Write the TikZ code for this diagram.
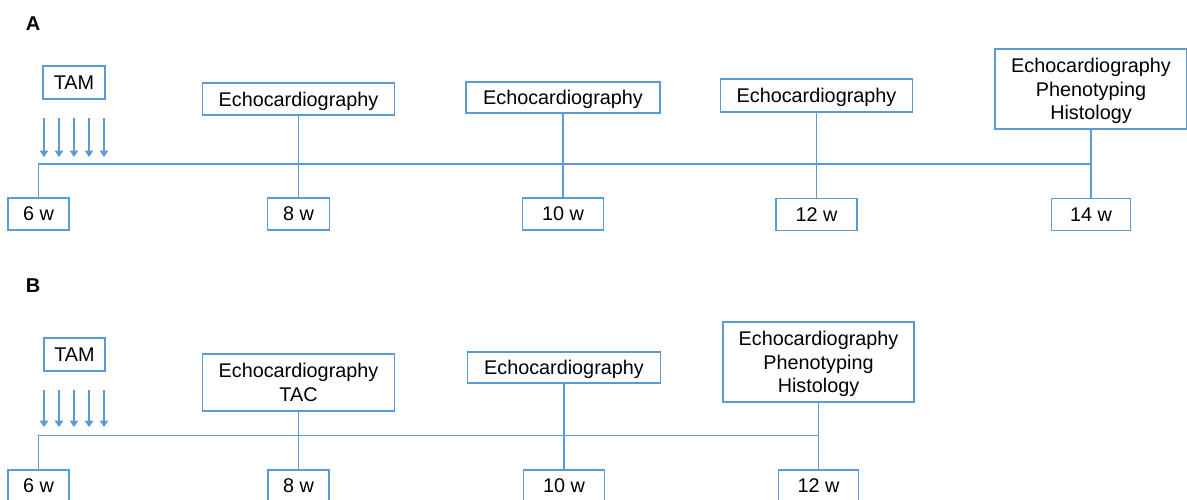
\documentclass[tikz,border=0pt]{standalone}
\usepackage{fontspec}
\setmainfont{Liberation Sans}
\usetikzlibrary{arrows.meta,positioning}
\definecolor{lineblue}{HTML}{5B9BD5}
\tikzset{
  stage/.style={draw=lineblue,line width=.75pt,align=center,inner sep=0pt,minimum height=16pt,text depth=-1pt,font=\fontsize{9.9}{11.75}\selectfont},
  week/.style={stage,minimum width=40.5pt},
  link/.style={draw=lineblue,line width=.75pt},
  dose/.style={-{Triangle[length=3.2pt,width=4.2pt]},draw=lineblue,line width=.75pt},
  panel/.style={font=\fontsize{10}{12}\selectfont\bfseries},
}

\begin{document}
\begin{tikzpicture}[x=.5pt,y=-.5pt]
			\path[use as bounding box,fill=white] (0,0) rectangle (1187,499);
			% panel A
			\node[panel] (labA) at (33,24) {A};
			\node[stage,minimum width=31pt,minimum height=16.5pt] (tamA) at (74,82.5) {TAM};
			\node[stage,minimum width=96pt] (echoA1) at (298.5,99) {Echocardiography};
			\node[stage,minimum width=97pt,minimum height=15.5pt] (echoA2) at (563,97.5) {Echocardiography};
			\node[stage,minimum width=96pt,minimum height=16.5pt] (echoA3) at (816.5,95.5) {Echocardiography};
			\node[stage,minimum width=96pt,minimum height=40pt] (endA) at (1091,89) {Echocardiography\\Phenotyping\\Histology};
			\node[stage,minimum width=30.5pt] (wA6) at (38.5,214) {6 w};
			\node[stage,minimum width=31pt] (wA8) at (298.5,214) {8 w};
			\node[week] (wA10) at (563,214) {10 w};
			\node[week] (wA12) at (816.5,214.5) {12 w};
			\node[week,minimum width=39.5pt] (wA14) at (1091,214.5) {14 w};
			\coordinate (tA) at (0,164);
			\draw[link] (wA6.north) |- (endA.south |- tA) -- (endA.south);
			\draw[link] (endA.south) -- (wA14.north);
			\draw[link] (echoA1.south) -- (wA8.north);
			\draw[link] (echoA2.south) -- (wA10.north);
			\draw[link] (echoA3.south) -- (wA12.north);
			\foreach \x in {44,59,...,104} {
				\coordinate (dA\x) at (\x,118); \coordinate (hA\x) at (\x,157);
				\draw[dose] (dA\x) -- (hA\x);
			}
			% panel B
			\node[panel] (labB) at (33,286) {B};
			\node[stage,minimum width=30.5pt,minimum height=16.5pt] (tamB) at (74.5,354.5) {TAM};
			\node[stage,minimum width=96pt,minimum height=28.5pt] (echoB1) at (298.5,382.5) {Echocardiography\\TAC};
			\node[stage,minimum width=96.5pt,minimum height=15.5pt] (echoB2) at (564,367.5) {Echocardiography};
			\node[stage,minimum width=95.5pt,minimum height=40pt] (endB) at (818.5,362) {Echocardiography\\Phenotyping\\Histology};
			\node[stage,minimum width=30.5pt] (wB6) at (38.5,486) {6 w};
			\node[stage,minimum width=30.5pt] (wB8) at (298.5,486) {8 w};
			\node[week] (wB10) at (564,486) {10 w};
			\node[week,minimum width=40pt] (wB12) at (818.5,486) {12 w};
			\coordinate (tB) at (0,435.5);
			\draw[link] (wB6.north) |- (endB.south |- tB) -- (endB.south);
			\draw[link] (endB.south) -- (wB12.north);
			\draw[link] (echoB1.south) -- (wB8.north);
			\draw[link] (echoB2.south) -- (wB10.north);
			\foreach \x in {44,59,...,104} {
				\coordinate (dB\x) at (\x,390); \coordinate (hB\x) at (\x,427);
				\draw[dose] (dB\x) -- (hB\x);
			}
		\end{tikzpicture}
\end{document}
